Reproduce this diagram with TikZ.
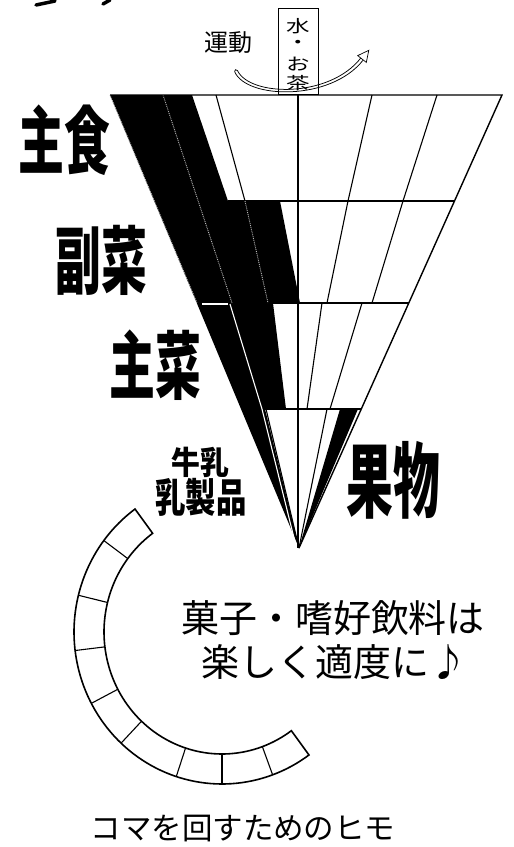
\documentclass[tikz,border=0pt]{standalone}
\usepackage{fontspec}
\newfontfamily\jp{Noto Sans CJK JP}
\begin{document}
\begin{tikzpicture}[x=1pt,y=-1pt]
\useasboundingbox (0,0) rectangle (514,847);
\tikzset{
  thinline/.style={line width=1.1pt},
  edgeline/.style={line width=1.4pt},
  grayline/.style={gray!55, line width=0.9pt, densely dotted},
  whiteline/.style={white, line width=1.1pt},
  bandline/.style={line width=1.6pt},
  biglabel/.style={font=\jp\bfseries\fontsize{74}{74}\selectfont, inner sep=0pt},
  midlabel/.style={font=\jp\bfseries\fontsize{34}{34}\selectfont, inner sep=0pt},
  plain/.style={font=\jp\fontsize{38}{38}\selectfont, inner sep=0pt},
  boxtext/.style={font=\jp\fontsize{21}{21}\selectfont, inner sep=0pt},
}
% remnants at the top-left
\draw[line width=3.5pt, line cap=round] (36,5) -- (55,1);
\draw[line width=3.5pt, line cap=round] (103,4) -- (110,0);

% cone coordinates
\coordinate (TL) at (110,95);
\coordinate (TR) at (502,95);
\coordinate (A) at (299,548);

% black lines of the white cells
\draw[thinline] (298,95) -- (298,548);
\draw[thinline] (216,95) -- (245,201);
\draw[thinline] (372,95) -- (348,201) -- (327,303);
\draw[thinline] (437,95) -- (403,201) -- (372,303);
\draw[thinline] (322,303) -- (307,409);
\draw[thinline] (362,303) -- (330,409);
\draw[thinline] (327,409) -- (A);
\draw[thinline] (266,409) -- (A);
\draw[thinline] (228,201) -- (454.5,201);
\draw[thinline] (273,303) -- (408.8,303);
\draw[thinline] (265,409) -- (361.3,409);

% black shaded side
\fill (TL) -- (192,95) -- (228,201) -- (280,201) -- (300,303) -- (273,303)
  -- (286,409) -- (265,409) -- (A) -- cycle;
\fill (340,409) -- (358,409) -- (A) -- cycle;

% lines seen inside the black
\draw[grayline] (TL) -- (197,303);
\draw[grayline] (163,95) -- (232,303);
\draw[grayline] (245,201) -- (268,303);
\draw[whiteline] (202,304) -- (228,304);
\draw[whiteline] (230,304) -- (262,409) -- (296,546);

% outline
\draw[edgeline] (TL) -- (TR) -- (A);

% water / tea box
\node[draw, line width=1pt, fill=white, minimum width=40pt, minimum height=86pt, inner sep=0pt] (box) at (298,51) {};

% exercise arrow (drawn as two outline curves so the box text stays visible)
\node[font=\jp\fontsize{24}{24}\selectfont, inner sep=0pt] (undo) at (228,43) {運動};
\coordinate (arrS) at (236,71);
\coordinate (arrE) at (362,59);
\draw[line width=0.75pt, line cap=round]
  (234.6,71.6) .. controls (246.4,99.3) and (330.8,101.5) .. (363.2,60)
  (237.4,70.4) .. controls (249.6,96.7) and (329.2,98.5) .. (360.8,58)
  (234.6,71.6) arc[start angle=200, end angle=20, radius=1.5pt];
\draw[fill=white, line width=0.7pt] (357.7,55.6) -- (368.8,50.3) -- (366.3,62.4) -- cycle;

\node[boxtext] (mizu) at (298,26) {\scalebox{1.12}[0.8]{水}};
\node[boxtext] (dot) at (298,44) {\scalebox{1.12}[0.8]{・}};
\node[boxtext] (o) at (298,64) {\scalebox{1.12}[0.8]{お}};
\node[boxtext] (cha) at (298,83) {\scalebox{1.12}[0.8]{茶}};

% group labels
\node[biglabel] (shushoku) at (64,140) {\scalebox{0.62}[1]{主食}};
\node[biglabel] (fukusai) at (101,260) {\scalebox{0.62}[1]{副菜}};
\node[biglabel] (shusai) at (155,365) {\scalebox{0.62}[1]{主菜}};
\node[biglabel, font=\jp\bfseries\fontsize{82}{82}\selectfont] (kudamono) at (393,480) {\scalebox{0.57}[1]{果物}};
\node[midlabel, font=\jp\bfseries\fontsize{32}{32}\selectfont] (gyunyu) at (200,462) {\scalebox{0.9}[1]{牛乳}};
\node[midlabel, font=\jp\bfseries\fontsize{40}{40}\selectfont] (nyuseihin) at (201,497) {\scalebox{0.76}[1]{乳製品}};

% string of the top
\draw[bandline] plot[domain=126:306, samples=90] ({222+148*cos(\x)},{632-152*sin(\x)})
  -- plot[domain=306:126, samples=90] ({222+118*cos(\x)},{632-122*sin(\x)}) -- cycle;
\foreach \a in {143,166,187,208,227,252,270,290}
  \draw[thinline] ({222+118*cos(\a)},{632-122*sin(\a)}) -- ({222+148*cos(\a)},{632-152*sin(\a)});

% texts
\node[plain] (kashi) at (333,618) {菓子・嗜好飲料は};
\node[plain] (tanoshiku) at (334,662) {楽しく適度に♪};
\node[font=\jp\fontsize{30.5}{30.5}\selectfont, inner sep=0pt] (himo) at (243,829) {コマを回すためのヒモ};
\end{tikzpicture}
\end{document}
